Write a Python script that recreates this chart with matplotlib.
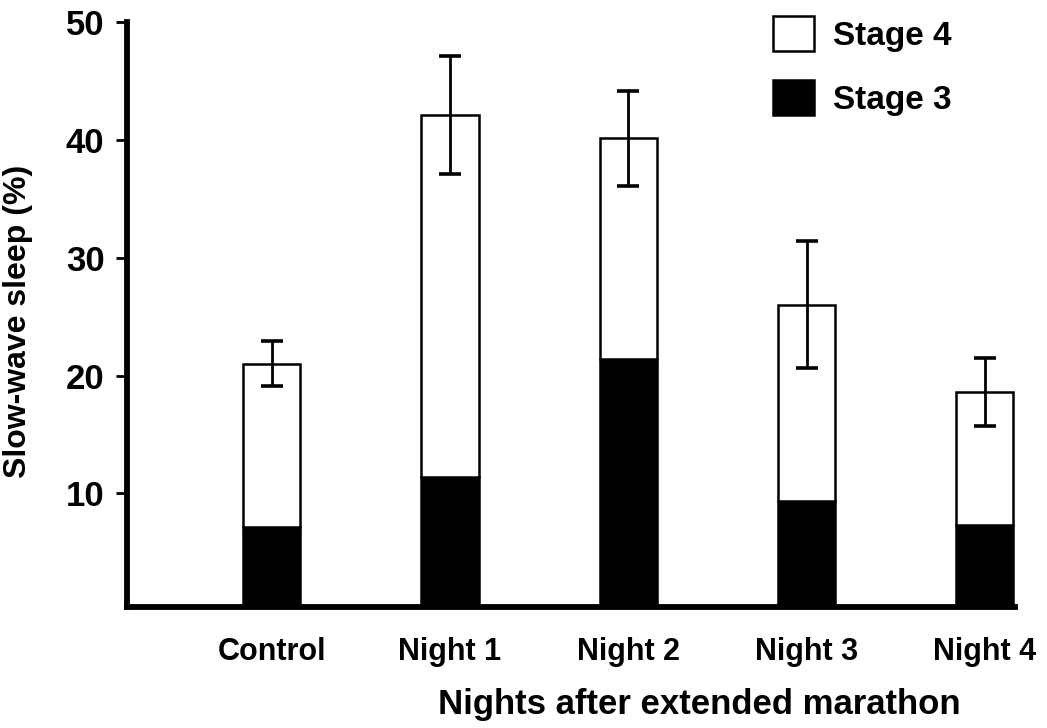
import matplotlib
matplotlib.use("Agg")
import matplotlib.pyplot as plt
import numpy as np

# Slow-wave sleep after an extended marathon
nights = ["Control", "Night 1", "Night 2", "Night 3", "Night 4"]
total_sws = [21.0, 42.1, 40.1, 26.0, 18.6]     # stage 3 + stage 4 (%)
stage3 = [7.2, 11.4, 21.4, 9.4, 7.3]           # stage 3 (%)
sws_err = [1.9, 5.0, 4.0, 5.4, 2.85]           # error on total (%)
yticks = [10, 20, 30, 40, 50]

stage4 = [t - s for t, s in zip(total_sws, stage3)]

plt.rcParams["font.family"] = ["Liberation Sans", "DejaVu Sans"]
plt.rcParams["font.weight"] = "bold"

fig = plt.figure(figsize=(10.47, 7.28), dpi=100)
ax = fig.add_axes([0.121, 0.1666, 0.848, 0.8036])

x = np.arange(len(nights))
w = 0.32
b3 = ax.bar(x, stage3, width=w, color="black", edgecolor="black",
            linewidth=1.8, label="Stage 3")
b4 = ax.bar(x, stage4, width=w, bottom=stage3, color="white",
            edgecolor="black", linewidth=1.8, label="Stage 4")
ax.errorbar(x, total_sws, yerr=sws_err, fmt="none", ecolor="black",
            elinewidth=2.0, capsize=8, capthick=2.6, zorder=3)

ax.set_xlim(-0.813, 4.166)
ax.set_ylim(0.4, 50)
ax.set_yticks(yticks)
ax.set_yticklabels([str(v) for v in yticks])
ax.set_xticks(x)
ax.set_xticklabels(nights)

for side in ("top", "right"):
    ax.spines[side].set_visible(False)
for side in ("left", "bottom"):
    ax.spines[side].set_linewidth(4.2)
    ax.spines[side].set_capstyle("projecting")

ax.tick_params(axis="y", direction="out", length=8, width=2,
               pad=8, labelsize=25)
ax.tick_params(axis="x", length=0, pad=22, labelsize=22)

ax.set_xlabel("Nights after extended marathon", fontsize=25,
              fontweight="bold")
ax.xaxis.set_label_coords(0.645, -0.168)
ax.xaxis.label.set_verticalalignment("center")

ax.set_ylabel("Slow-wave sleep (%)", fontsize=23, fontweight="bold")
ax.yaxis.set_label_coords(-0.1224, 0.487)
ax.yaxis.label.set_verticalalignment("center")

ax.legend(handles=[b4, b3], labels=["Stage 4", "Stage 3"],
          loc="upper left", bbox_to_anchor=(0.7383, 0.978),
          bbox_transform=fig.transFigure, frameon=False,
          fontsize=24, handlelength=1.23, handleheight=1.23,
          handletextpad=0.57, labelspacing=0.85, borderaxespad=0,
          borderpad=0)

fig.savefig("out.png", dpi=100)
